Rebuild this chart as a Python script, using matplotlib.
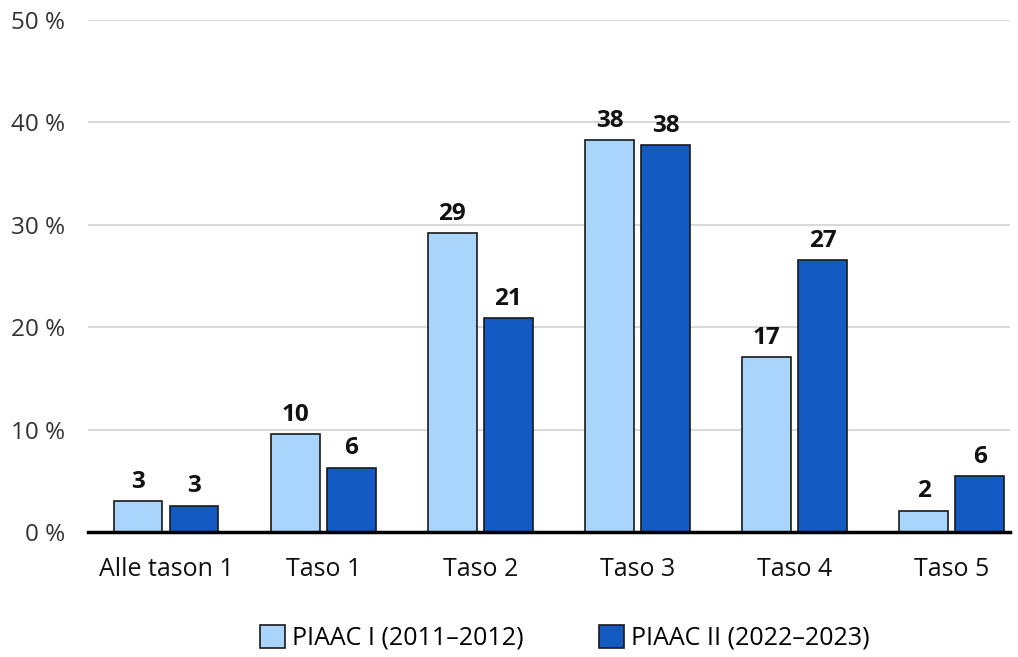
import matplotlib.pyplot as plt
import numpy as np

plt.rcParams['font.family'] = ['Open Sans', 'DejaVu Sans']

categories = ['Alle tason 1', 'Taso 1', 'Taso 2', 'Taso 3', 'Taso 4', 'Taso 5']
piaac1 = [3.0, 9.6, 29.2, 38.3, 17.1, 2.1]
piaac2 = [2.6, 6.3, 20.9, 37.8, 26.6, 5.5]
series_names = ['PIAAC I (2011–2012)', 'PIAAC II (2022–2023)']
yticks = [0, 10, 20, 30, 40, 50]

light = '#a9d5fc'
dark = '#135bc2'

fig = plt.figure(figsize=(10.18, 6.57), dpi=100)
ax = fig.add_axes([0.086, 0.19, 0.906, 0.7795])

x = np.arange(len(categories))
w = 0.31
off = 0.178
b1 = ax.bar(x - off, piaac1, w, color=light, edgecolor='#1a1a1a', linewidth=1.2,
            label=series_names[0], zorder=3)
b2 = ax.bar(x + off, piaac2, w, color=dark, edgecolor='#1a1a1a', linewidth=1.2,
            label=series_names[1], zorder=3)

# rounded value labels above bars
for bars, vals in [(b1, piaac1), (b2, piaac2)]:
    for rect, v in zip(bars, vals):
        ax.text(rect.get_x() + rect.get_width() / 2, v + 0.7, f'{round(v):d}',
                ha='center', va='bottom', fontsize=17.5, fontweight='bold', color='#111111')

ax.set_ylim(0, 50)
ax.set_xlim(-0.5, 5.37)
ax.set_yticks(yticks)
ax.set_yticklabels([f'{t} %' for t in yticks], fontsize=17.5, color='#333333')
ax.set_xticks(x)
ax.set_xticklabels(categories, fontsize=18, color='#111111')
ax.tick_params(axis='y', length=0, pad=16)
ax.tick_params(axis='x', length=0, pad=18)

ax.grid(axis='y', color='#d9d9d9', linewidth=1.5, zorder=0)
for s in ['top', 'right', 'left']:
    ax.spines[s].set_visible(False)
ax.spines['bottom'].set_linewidth(2.5)
ax.spines['bottom'].set_color('#000000')
ax.spines['bottom'].set_zorder(4)

fig.legend(handles=[b1, b2], loc='lower center', bbox_to_anchor=(0.555, -0.025), ncol=2,
           frameon=False, fontsize=18, handlelength=1.0, handleheight=1.0,
           handletextpad=0.3, columnspacing=3.0)

fig.savefig('out.png', dpi=100)
